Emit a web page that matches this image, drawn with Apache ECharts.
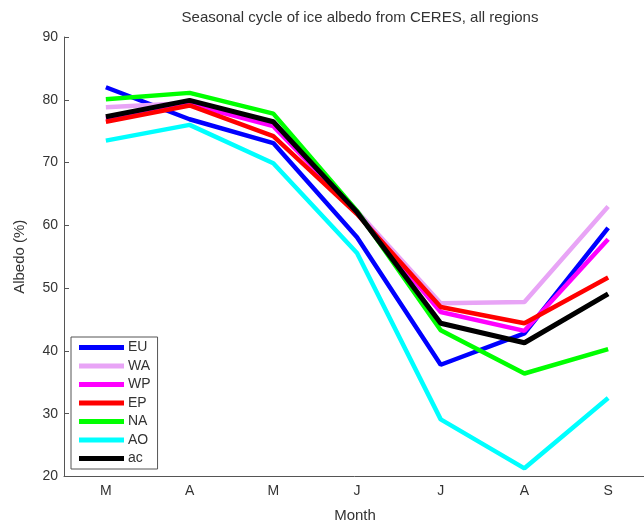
<!DOCTYPE html>
<html>
<head>
<meta charset="utf-8">
<script src="https://cdn.jsdelivr.net/npm/echarts@6/dist/echarts.min.js"></script>
<style>
  html, body { margin: 0; padding: 0; background: #fff; }
  #chart { width: 644px; height: 527px; }
</style>
</head>
<body>
<div id="chart"></div>
<script>
// months March..September
const months = ["M", "A", "M", "J", "J", "A", "S"];
const yTicks = [20, 30, 40, 50, 60, 70, 80, 90];

const euValues = [82.0, 76.9, 73.1, 58.1, 37.8, 42.8, 59.6];
const waValues = [78.8, 79.5, 76.5, 62.3, 47.6, 47.8, 63.0];
const wpValues = [77.0, 79.3, 75.8, 62.0, 46.2, 43.2, 57.8];
const epValues = [76.5, 79.1, 74.2, 61.8, 47.0, 44.4, 51.7];
const naValues = [80.1, 81.1, 77.8, 62.3, 43.3, 36.4, 40.3];
const aoValues = [73.5, 76.0, 69.9, 55.6, 29.1, 21.3, 32.5];
const acValues = [77.3, 79.9, 76.5, 62.1, 44.4, 41.3, 49.1];

const regions = [
  { name: "EU", data: euValues, color: "#0000ff" },
  { name: "WA", data: waValues, color: "#e8a4f6" },
  { name: "WP", data: wpValues, color: "#ff00ff" },
  { name: "EP", data: epValues, color: "#ff0000" },
  { name: "NA", data: naValues, color: "#00ff00" },
  { name: "AO", data: aoValues, color: "#00ffff" },
  { name: "ac", data: acValues, color: "#000000" },
];

const font = "Liberation Sans, Arial, sans-serif";
const textColor = "#333";
const axisColor = "#555";

const chart = echarts.init(document.getElementById("chart"), null, { renderer: "canvas" });
chart.setOption({
  animation: false,
  backgroundColor: "#fff",
  textStyle: { fontFamily: font },
  title: {
    text: "Seasonal cycle of ice albedo from CERES, all regions",
    left: 355,
    textAlign: "center",
    top: 5,
    textStyle: { fontSize: 15, fontWeight: "normal", color: textColor, fontFamily: font },
  },
  // the x range runs a little past the right edge of the picture
  grid: { left: 64, top: 37, width: 586, height: 439.5, outerBoundsMode: "none", containLabel: false },
  legend: {
    orient: "vertical",
    left: 71,
    top: 337,
    icon: "rect",
    itemWidth: 45,
    itemHeight: 5,
    itemGap: 3.5,
    padding: [3, 7, 3, 8],
    borderColor: "#555",
    borderWidth: 1,
    backgroundColor: "#fff",
    textStyle: { fontSize: 14, color: textColor, lineHeight: 15, fontFamily: font, padding: [0, 0, 0, -1] },
    data: regions.map((r) => r.name),
  },
  xAxis: {
    type: "category",
    data: months,
    boundaryGap: true,
    name: "Month",
    nameLocation: "middle",
    nameGap: 32,
    nameTextStyle: { fontSize: 15, color: textColor, padding: [0, 4, 0, 0] },
    axisLine: { lineStyle: { color: axisColor, width: 1 } },
    axisTick: { inside: true, length: 5, alignWithLabel: true, lineStyle: { color: axisColor } },
    axisLabel: { fontSize: 14, color: textColor, margin: 8 },
    splitLine: { show: false },
  },
  yAxis: {
    type: "value",
    min: yTicks[0],
    max: yTicks[yTicks.length - 1],
    interval: 10,
    name: "Albedo (%)",
    nameLocation: "middle",
    nameGap: 37,
    nameTextStyle: { fontSize: 15, color: textColor },
    axisLine: { show: true, lineStyle: { color: axisColor, width: 1 } },
    axisTick: { show: true, inside: true, length: 5, lineStyle: { color: axisColor } },
    axisLabel: { fontSize: 14, color: textColor, margin: 6 },
    splitLine: { show: false },
  },
  series: regions.map((r) => ({
    name: r.name,
    type: "line",
    data: r.data,
    symbol: "none",
    color: r.color,
    lineStyle: { color: r.color, width: r.name === "ac" ? 5 : 4.5 },
  })),
});
</script>
</body>
</html>
